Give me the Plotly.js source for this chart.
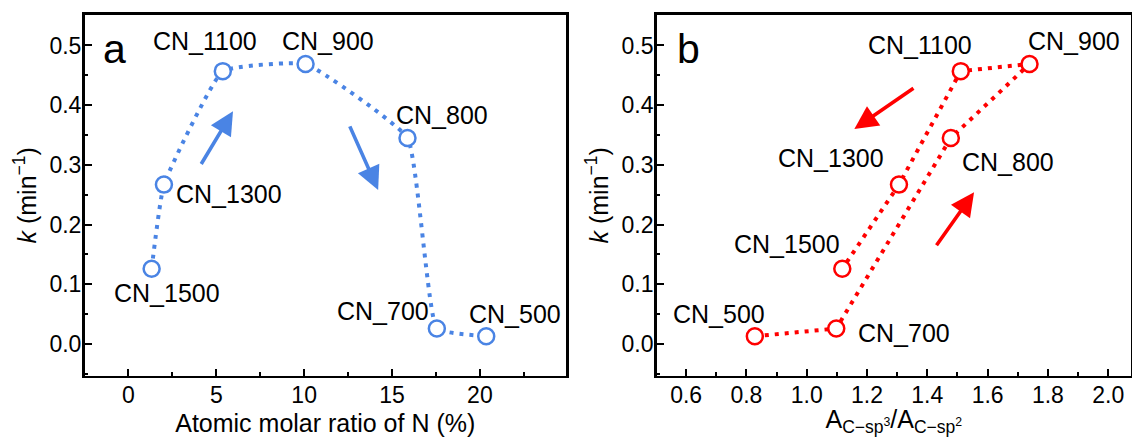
<!DOCTYPE html>
<html>
<head>
<meta charset="utf-8">
<script src="https://cdn.plot.ly/plotly-3.0.1.min.js"></script>
<style>
  html, body { margin: 0; padding: 0; background: #fff; }
  #chart { width: 1132px; height: 437px; }
</style>
</head>
<body>
<div id="chart"></div>
<script>
// ---- data ----
// Panel a: ordered by N ratio
const labelsA = ["CN_1500", "CN_1300", "CN_1100", "CN_900", "CN_800", "CN_700", "CN_500"];
const nRatio  = [1.32, 2.02, 5.37, 10.08, 15.88, 17.55, 20.36];
const kA      = [0.126, 0.267, 0.457, 0.469, 0.345, 0.026, 0.013];

// Panel b: ordered along the drawn path
const labelsB = ["CN_500", "CN_700", "CN_800", "CN_900", "CN_1100", "CN_1300", "CN_1500"];
const spRatio = [0.828, 1.098, 1.478, 1.739, 1.511, 1.306, 1.118];
const kB      = [0.013, 0.026, 0.345, 0.469, 0.457, 0.267, 0.126];

// label anchor positions (data coords)
const labelPosA = {
  "CN_1100": [4.36, 0.507], "CN_900": [11.37, 0.507], "CN_1300": [5.70, 0.252],
  "CN_800": [17.85, 0.383], "CN_1500": [2.2, 0.085], "CN_700": [14.48, 0.056],
  "CN_500": [21.98, 0.051]
};
const labelPosB = {
  "CN_1100": [1.377, 0.501], "CN_900": [1.887, 0.507], "CN_1300": [1.080, 0.312],
  "CN_800": [1.668, 0.305], "CN_1500": [0.935, 0.167], "CN_500": [0.710, 0.050],
  "CN_700": [1.324, 0.019]
};
// arrows: [tailX, tailY, headX, headY]
const arrowsA = [[4.09, 0.299, 5.95, 0.390], [12.56, 0.367, 14.21, 0.258]];
const arrowsB = [[1.359, 0.430, 1.158, 0.360], [1.427, 0.163, 1.555, 0.254]];

const BLUE = "#4a84e4";
const RED = "#ff0000";
const FONT = "Liberation Sans, Arial, sans-serif";

const traces = [
  {
    x: nRatio, y: kA, xaxis: "x", yaxis: "y", type: "scatter", mode: "lines+markers",
    line: {color: BLUE, width: 4, dash: "4px,6px", shape: "spline", smoothing: 0.35},
    marker: {symbol: "circle", size: 16, color: "white", line: {color: BLUE, width: 2.5}},
    hoverinfo: "x+y", showlegend: false
  },
  {
    x: spRatio, y: kB, xaxis: "x2", yaxis: "y2", type: "scatter", mode: "lines+markers",
    line: {color: RED, width: 4, dash: "4px,6px"},
    marker: {symbol: "circle", size: 16, color: "white", line: {color: RED, width: 2.5}},
    hoverinfo: "x+y", showlegend: false
  }
];

const annotations = [];
function addLabels(pos, xr, yr) {
  for (const name in pos) {
    annotations.push({
      x: pos[name][0], y: pos[name][1], xref: xr, yref: yr, text: name,
      showarrow: false, xanchor: "center", yanchor: "middle",
      font: {family: FONT, size: 25, color: "#000"}
    });
  }
}
addLabels(labelPosA, "x", "y");
addLabels(labelPosB, "x2", "y2");
function addArrows(arr, xr, yr, color) {
  for (const a of arr) {
    annotations.push({
      x: a[2], y: a[3], ax: a[0], ay: a[1], xref: xr, yref: yr, axref: xr, ayref: yr,
      text: "", showarrow: true, arrowhead: 2, arrowsize: 1.3, arrowwidth: 3.6,
      arrowcolor: color, standoff: 0
    });
  }
}
addArrows(arrowsA, "x", "y", BLUE);
addArrows(arrowsB, "x2", "y2", RED);
annotations.push({x: -0.81, y: 0.4945, xref: "x", yref: "y", text: "a", showarrow: false,
  xanchor: "center", yanchor: "middle", font: {family: FONT, size: 41, color: "#000"}});
annotations.push({x: 0.607, y: 0.4945, xref: "x2", yref: "y2", text: "b", showarrow: false,
  xanchor: "center", yanchor: "middle", font: {family: FONT, size: 41, color: "#000"}});

const axisCommon = {
  showline: true, linecolor: "#000", linewidth: 2.5, mirror: true,
  ticks: "inside", ticklen: 7, tickwidth: 2, tickcolor: "#000",
  showgrid: false, zeroline: false,
  tickfont: {family: FONT, size: 23, color: "#000"}
};
const yCommon = Object.assign({}, axisCommon, {
  range: [-0.053, 0.551], dtick: 0.1, tick0: 0, tickformat: ".1f",
  domain: [0.1403, 0.9657], ticklabelstandoff: -4,
  minor: {ticks: "inside", ticklen: 3.5, tickwidth: 2, tickcolor: "#000", dtick: 0.05},
  title: {text: "<i>k</i> (min<sup>−1</sup>)", font: {family: FONT, size: 25, color: "#000"}, standoff: 6}
});

const layout = {
  width: 1132, height: 437,
  margin: {l: 0, r: 0, t: 0, b: 0},
  paper_bgcolor: "#fff", plot_bgcolor: "#fff",
  showlegend: false,
  xaxis: Object.assign({}, axisCommon, {
    domain: [0.07465, 0.5], range: [-2.5, 24.9], dtick: 5, tick0: 0,
    ticklabelstandoff: -3,
    minor: {ticks: "inside", ticklen: 3.5, tickwidth: 2, tickcolor: "#000", dtick: 2.5},
    anchor: "y",
    title: {text: "Atomic molar ratio of N (%)", font: {family: FONT, size: 25, color: "#000"}, standoff: 11}
  }),
  yaxis: Object.assign({}, yCommon, {anchor: "x"}),
  xaxis2: Object.assign({}, axisCommon, {
    domain: [0.58, 0.9991], range: [0.502, 2.0755], dtick: 0.2, tick0: 0, tickformat: ".1f",
    ticklabelstandoff: -3,
    minor: {ticks: "inside", ticklen: 3.5, tickwidth: 2, tickcolor: "#000", dtick: 0.1},
    anchor: "y2",
    title: {text: "A<sub>C−sp<sup>3</sup></sub>/A<sub>C−sp<sup>2</sup></sub>", font: {family: FONT, size: 25, color: "#000"}, standoff: 11}
  }),
  yaxis2: Object.assign({}, yCommon, {anchor: "x2"}),
  annotations: annotations
};

Plotly.newPlot("chart", traces, layout, {displayModeBar: false, staticPlot: true});
</script>
</body>
</html>
